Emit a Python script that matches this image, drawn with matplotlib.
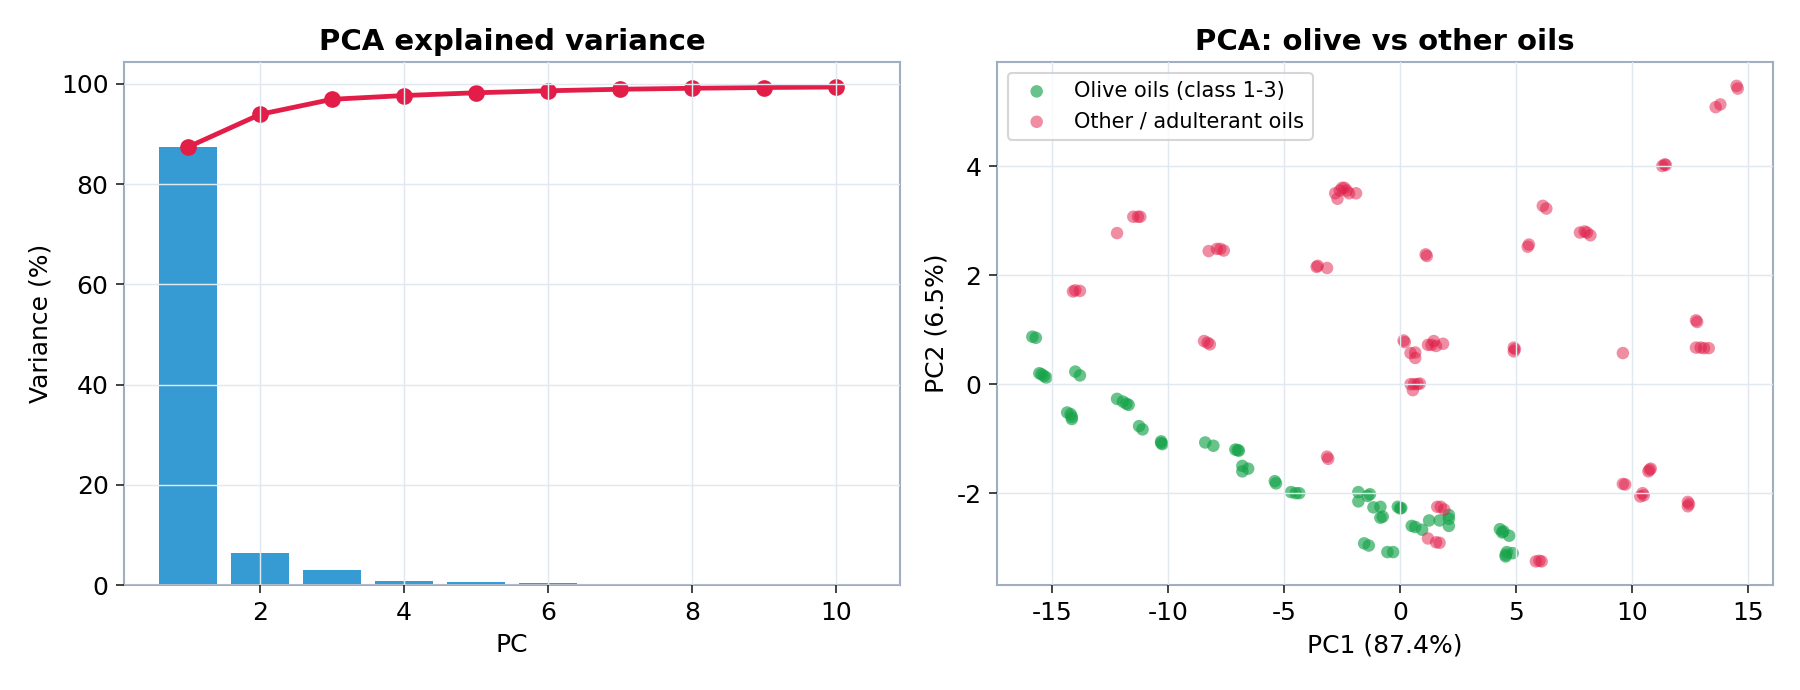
import numpy as np
import matplotlib
matplotlib.use("Agg")
import matplotlib.pyplot as plt

plt.rcParams['font.family'] = ['DejaVu Sans']
plt.rcParams['axes.unicode_minus'] = False

# explained variance per component (%)
pcs = list(range(1, 11))
explained = [87.4, 6.5, 3.0, 0.75, 0.55, 0.4, 0.3, 0.2, 0.15, 0.1]
cumulative = np.cumsum(explained)

# PCA scores, olive oils (class 1-3)
olive_pc1 = [-15.85, -15.7, -15.55, -15.45, -15.35, -15.25, -14.0, -13.8,
             -14.35, -14.2, -14.15, -14.15, -12.2, -11.95, -11.8, -11.7,
             -11.25, -11.1, -10.3, -10.25, -10.3, -8.4, -8.05, -7.1, -6.95,
             -7.0, -6.8, -6.55, -6.8, -5.4, -5.35, -4.7, -4.5, -4.35,
             -1.8, -1.8, -1.4, -1.3, -1.15, -0.85, -0.85, -0.75, -1.55, -1.35,
             -0.55, -0.3, -0.1, 0.0, 0.05, 0.5, 0.65, 0.95, 1.25, 1.7, 2.1,
             2.1, 2.1, 4.3, 4.45, 4.4, 4.7, 4.55, 4.6, 4.85, 4.55]
olive_pc2 = [0.87, 0.85, 0.2, 0.18, 0.15, 0.12, 0.23, 0.16,
             -0.52, -0.55, -0.6, -0.64, -0.27, -0.32, -0.36, -0.38,
             -0.77, -0.83, -1.05, -1.1, -1.08, -1.07, -1.13, -1.2, -1.22,
             -1.21, -1.5, -1.55, -1.6, -1.78, -1.82, -1.98, -2.0, -2.0,
             -1.98, -2.15, -2.05, -2.02, -2.26, -2.25, -2.45, -2.43, -2.92, -2.96,
             -3.08, -3.08, -2.25, -2.28, -2.27, -2.6, -2.62, -2.67, -2.5, -2.5, -2.4,
             -2.47, -2.6, -2.66, -2.7, -2.72, -2.78, -3.13, -3.08, -3.1, -3.16]

# PCA scores, other / adulterant oils
other_pc1 = [-2.8, -2.6, -2.5, -2.4, -2.3, -2.2, -1.9, -2.7,
             -11.5, -11.3, -11.2, -12.2, -8.25, -7.9, -7.75, -7.6,
             -3.6, -3.55, -3.15, -14.1, -14.0, -13.8,
             14.5, 14.55, 13.6, 13.8, 11.3, 11.4, 11.45, 6.15, 6.3,
             7.75, 7.95, 8.05, 8.2, 5.5, 5.55, 1.1, 1.15, 12.75, 12.8,
             -8.45, -8.3, -8.2, -3.15, -3.1,
             0.15, 0.2, 1.2, 1.35, 1.45, 1.55, 1.85, 0.45, 0.65, 0.65,
             0.45, 0.6, 0.75, 0.85, 0.55, 4.9, 4.9, 4.95, 9.6,
             12.75, 12.95, 13.1, 13.3, 10.7, 10.8, 10.75, 9.6, 9.7,
             10.35, 10.45, 10.5, 12.4, 12.45, 12.4, 1.6, 1.75, 1.9,
             1.2, 1.55, 1.7, 5.85, 6.0, 6.1]
other_pc2 = [3.5, 3.55, 3.6, 3.6, 3.55, 3.5, 3.5, 3.4,
             3.07, 3.07, 3.07, 2.77, 2.44, 2.48, 2.48, 2.45,
             2.15, 2.17, 2.13, 1.7, 1.72, 1.71,
             5.47, 5.42, 5.08, 5.13, 4.0, 4.03, 4.02, 3.27, 3.22,
             2.78, 2.8, 2.78, 2.73, 2.52, 2.56, 2.38, 2.35, 1.17, 1.14,
             0.79, 0.76, 0.73, -1.33, -1.37,
             0.8, 0.77, 0.72, 0.72, 0.79, 0.7, 0.74, 0.57, 0.58, 0.48,
             0.0, 0.0, 0.0, 0.01, -0.11, 0.67, 0.6, 0.64, 0.57,
             0.67, 0.67, 0.66, 0.66, -1.6, -1.55, -1.57, -1.83, -1.84,
             -2.06, -2.0, -2.04, -2.16, -2.2, -2.24, -2.25, -2.25, -2.3,
             -2.83, -2.9, -2.91, -3.25, -3.24, -3.25]

bar_color = '#369bd3'
line_color = '#e11d48'
olive_color = '#16a34a'
other_color = '#e11d48'
spine_color = '#a0aec0'
grid_color = '#e2e8f0'

fig, (ax1, ax2) = plt.subplots(1, 2, figsize=(12, 4.6), dpi=150)
fig.subplots_adjust(left=0.069, right=0.985, bottom=0.152, top=0.910, wspace=0.125)


def style_axes(ax):
    for s in ax.spines.values():
        s.set_color(spine_color)
        s.set_linewidth(1.0)
    ax.grid(True, color=grid_color, linewidth=0.7)
    ax.set_axisbelow(False)
    ax.tick_params(labelsize=12, length=4, color='#222222')


# left: explained variance bars + cumulative line
ax1.bar(pcs, explained, width=0.8, color=bar_color)
ax1.plot(pcs, cumulative, color=line_color, lw=2.3, marker='o', markersize=7)
ax1.set_title('PCA explained variance', fontsize=14, fontweight='bold')
ax1.set_xlabel('PC', fontsize=12)
ax1.set_ylabel('Variance (%)', fontsize=12)
style_axes(ax1)

# right: score plot
ax2.scatter(olive_pc1, olive_pc2, s=36, color=olive_color, alpha=0.65,
            edgecolors='none', label='Olive oils (class 1-3)')
ax2.scatter(other_pc1, other_pc2, s=36, color=other_color, alpha=0.5,
            edgecolors='none', label='Other / adulterant oils')
ax2.set_title('PCA: olive vs other oils', fontsize=14, fontweight='bold')
ax2.set_xlabel('PC1 (87.4%)', fontsize=12)
ax2.set_ylabel('PC2 (6.5%)', fontsize=12)
ax2.set_yticks([-2, 0, 2, 4])
style_axes(ax2)
ax2.legend(loc='upper left', fontsize=10)

fig.savefig('out.png', dpi=150)
